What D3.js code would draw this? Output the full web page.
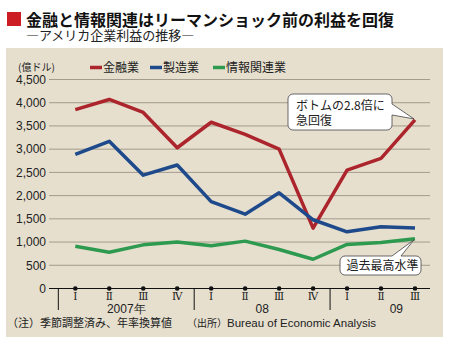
<!DOCTYPE html>
<html>
<head>
<meta charset="utf-8">
<script src="https://cdn.jsdelivr.net/npm/d3@7"></script>
<style>
  body { margin: 0; background: #fff; }
  svg { display: block; }
  .jp { font-family: "Noto Sans CJK JP", sans-serif; }
  .num { font-family: "Liberation Sans", Arial, sans-serif; }
</style>
</head>
<body>
<div id="vis"></div>
<script>
// quarterly corporate profits, 100 million dollars (annualised)
const quarters = ["Ⅰ", "Ⅱ", "Ⅲ", "Ⅳ", "Ⅰ", "Ⅱ", "Ⅲ", "Ⅳ", "Ⅰ", "Ⅱ", "Ⅲ"];
const years = ["2007年", "08", "09"];
const yearStart = [0, 4, 8];
const finance = [3850, 4070, 3790, 3030, 3580, 3320, 3000, 1300, 2550, 2800, 3630];
const manufacturing = [2890, 3170, 2440, 2660, 1870, 1600, 2060, 1480, 1220, 1330, 1300];
const infoTech = [910, 780, 940, 1000, 920, 1020, 840, 630, 950, 990, 1070];
const yTicks = [0, 500, 1000, 1500, 2000, 2500, 3000, 3500, 4000, 4500];

const series = [
  { name: "金融業", values: finance, color: "#ad252c" },
  { name: "製造業", values: manufacturing, color: "#1e4a8c" },
  { name: "情報関連業", values: infoTech, color: "#2e9a50" }
];

const width = 450, height = 348;
const svg = d3.select("#vis").append("svg")
  .attr("width", width)
  .attr("height", height);

// header
svg.append("rect").attr("x", 7).attr("y", 12).attr("width", 14).attr("height", 14).attr("fill", "#cc1d24");
svg.append("text").attr("class", "jp")
  .attr("x", 26).attr("y", 25.5)
  .attr("font-size", 16).attr("font-weight", "bold").attr("fill", "#111")
  .text("金融と情報関連はリーマンショック前の利益を回復");
svg.append("text").attr("class", "jp")
  .attr("x", 26).attr("y", 39.5)
  .attr("font-size", 13).attr("fill", "#222")
  .text("―アメリカ企業利益の推移―");

// panel
svg.append("rect")
  .attr("x", 6).attr("y", 48).attr("width", 437).attr("height", 289)
  .attr("fill", "#e6dfce");

const x = d3.scalePoint()
  .domain(d3.range(quarters.length))
  .range([75.3, 415]);
const step = x.step();

const y = d3.scaleLinear()
  .domain([0, 4500])
  .range([288.5, 79.5]);

// grid + y labels
const grid = svg.append("g");
grid.selectAll("line")
  .data(yTicks.filter(d => d > 0))
  .join("line")
  .attr("x1", 49).attr("x2", 430)
  .attr("y1", d => y(d)).attr("y2", d => y(d))
  .attr("stroke", "#a39b8b").attr("stroke-width", 1);
grid.selectAll("text")
  .data(yTicks)
  .join("text")
  .attr("class", "num")
  .attr("x", 46).attr("y", d => y(d))
  .attr("dy", "0.36em")
  .attr("text-anchor", "end")
  .attr("font-size", 12).attr("fill", "#222")
  .text(d => d3.format(",")(d));

// unit + legend
svg.append("text").attr("class", "jp")
  .attr("x", 18).attr("y", 71)
  .attr("font-size", 10).attr("fill", "#222")
  .text("(億ドル)");
const legendX = [90, 150, 213];
const legend = svg.append("g").selectAll("g")
  .data(series)
  .join("g")
  .attr("transform", (d, i) => `translate(${legendX[i]},67.5)`);
legend.append("line")
  .attr("x1", 0).attr("x2", 12)
  .attr("stroke", d => d.color).attr("stroke-width", 3.5);
legend.append("text").attr("class", "jp")
  .attr("x", 13).attr("dy", "0.38em")
  .attr("font-size", 12).attr("fill", "#222")
  .text(d => d.name);

// x axis
const axis = svg.append("g");
axis.append("line")
  .attr("x1", 49).attr("x2", 430)
  .attr("y1", y(0)).attr("y2", y(0))
  .attr("stroke", "#111").attr("stroke-width", 1.1);
axis.selectAll("line.sep")
  .data(yearStart)
  .join("line")
  .attr("class", "sep")
  .attr("x1", d => x(d) - step / 2).attr("x2", d => x(d) - step / 2)
  .attr("y1", y(0)).attr("y2", 310)
  .attr("stroke", "#111").attr("stroke-width", 1);
axis.selectAll("circle")
  .data(quarters.map((q, i) => i))
  .join("circle")
  .attr("cx", d => x(d)).attr("cy", y(0)).attr("r", 2.3)
  .attr("fill", "#111");
axis.selectAll("text.q")
  .data(quarters)
  .join("text")
  .attr("class", "q")
  .attr("x", (d, i) => x(i)).attr("y", 300)
  .attr("text-anchor", "middle")
  .attr("font-family", "'DejaVu Serif', serif")
  .attr("font-size", 10.5).attr("fill", "#222")
  .text(d => d);
const yearPos = [1.5, 5.5, 9.45];
axis.selectAll("text.yr")
  .data(years)
  .join("text")
  .attr("class", "yr num")
  .attr("x", (d, i) => x(0) + yearPos[i] * step).attr("y", 312.5)
  .attr("text-anchor", "middle")
  .attr("font-size", 12).attr("fill", "#222")
  .text(d => d);

// lines
const line = d3.line()
  .x((d, i) => x(i))
  .y(d => y(d));
svg.append("g").selectAll("path")
  .data(series)
  .join("path")
  .attr("d", d => line(d.values))
  .attr("fill", "none")
  .attr("stroke", d => d.color)
  .attr("stroke-width", 3.5)
  .attr("stroke-linejoin", "round");

// callouts
const last = quarters.length - 1;
function roundBox(x0, y0, x1, y1, r, notch) {
  // notch: pointer spliced into the right or top side
  const p = d3.path();
  p.moveTo(x0 + r, y0);
  if (notch.side === "top") {
    p.lineTo(notch.a, y0);
    p.lineTo(notch.tx, notch.ty);
    p.lineTo(notch.b, y0);
  }
  p.lineTo(x1 - r, y0);
  p.arcTo(x1, y0, x1, y0 + r, r);
  if (notch.side === "right") {
    p.lineTo(x1, notch.a);
    p.lineTo(notch.tx, notch.ty);
    p.lineTo(x1, notch.b);
  }
  p.lineTo(x1, y1 - r);
  p.arcTo(x1, y1, x1 - r, y1, r);
  p.lineTo(x0 + r, y1);
  p.arcTo(x0, y1, x0, y1 - r, r);
  p.lineTo(x0, y0 + r);
  p.arcTo(x0, y0, x0 + r, y0, r);
  p.closePath();
  return p.toString();
}

const notes = svg.append("g");
notes.append("path")
  .attr("d", roundBox(288, 94, 392, 130, 5,
    { side: "right", a: 104, b: 115, tx: x(last) - 1, ty: y(finance[last]) - 1 }))
  .attr("fill", "#fff").attr("stroke", "#444").attr("stroke-width", 0.8);
notes.append("text").attr("class", "jp")
  .attr("x", 296).attr("y", 109.5)
  .attr("font-size", 12).attr("fill", "#222")
  .text("ボトムの2.8倍に");
notes.append("text").attr("class", "jp")
  .attr("x", 296).attr("y", 124.5)
  .attr("font-size", 12).attr("fill", "#222")
  .text("急回復");

notes.append("path")
  .attr("d", roundBox(340, 256, 421, 275, 5,
    { side: "top", a: 392, b: 401, tx: x(last) - 1, ty: y(infoTech[last]) + 1 }))
  .attr("fill", "#fff").attr("stroke", "#444").attr("stroke-width", 0.8);
notes.append("text").attr("class", "jp")
  .attr("x", 346.5).attr("y", 270)
  .attr("font-size", 12).attr("fill", "#222")
  .text("過去最高水準");

// footnotes
svg.append("text").attr("class", "jp")
  .attr("x", 7).attr("y", 326.5)
  .attr("font-size", 11).attr("fill", "#222")
  .text("（注）季節調整済み、年率換算値");
const src = svg.append("text").attr("class", "jp")
  .attr("x", 187).attr("y", 326.5)
  .attr("font-size", 11).attr("fill", "#222");
src.append("tspan").text("（出所）").attr("font-size", 10);
src.append("tspan").attr("class", "num").attr("font-size", 11.5).text("Bureau of Economic Analysis");
</script>
</body>
</html>
